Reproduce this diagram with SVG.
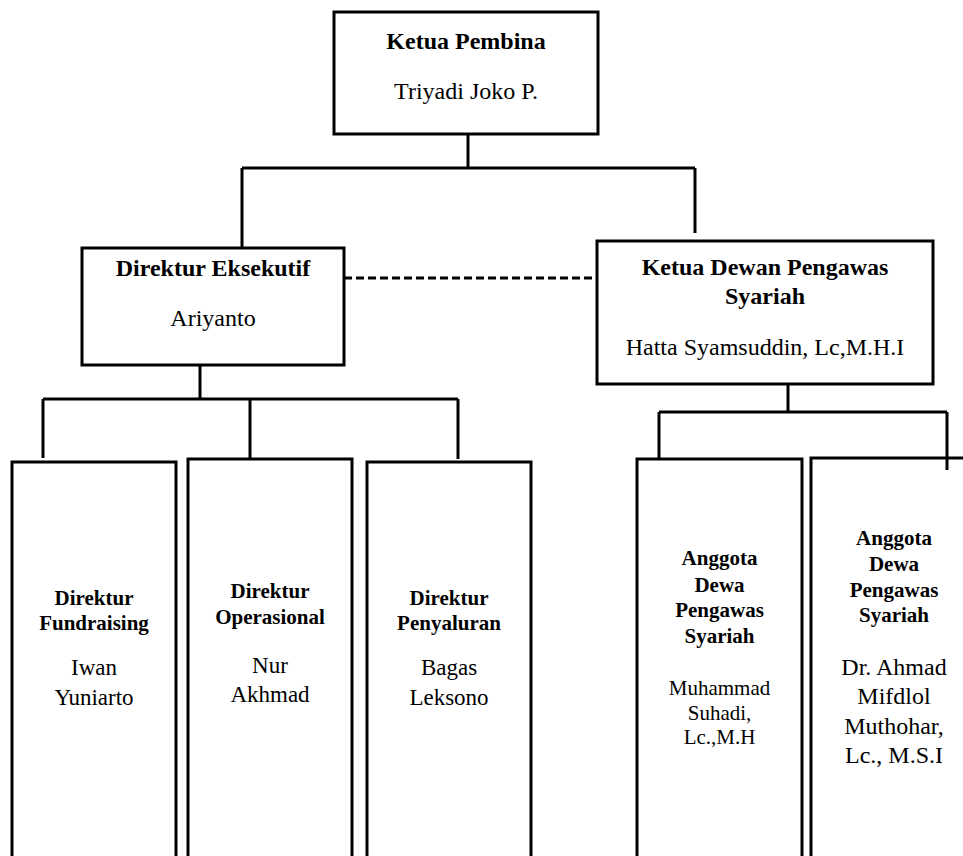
<svg xmlns="http://www.w3.org/2000/svg" width="963" height="856" viewBox="0 0 963 856">
<style>
.box{fill:#fff;stroke:#000;stroke-width:3}
.ln{fill:none;stroke:#000;stroke-width:3}
text{font-family:"Liberation Serif","Times New Roman",serif;fill:#000;text-anchor:middle}
.h{font-weight:bold;font-size:24px}
.n{font-size:24px}
.hs{font-weight:bold;font-size:21px}
.ns{font-size:23px}
.nxs{font-size:21px}
</style>
<rect width="963" height="856" fill="#fff"/>
<g id="connectors">
<path class="ln" d="M468 134V168"/>
<path class="ln" d="M242 168H695" stroke-width="4"/>
<path class="ln" d="M242 168V248M695 168V233"/>
<path class="ln" d="M344 278H597" stroke-dasharray="8 4" stroke-width="2"/>
<path class="ln" d="M200 365V399M43 399H458M43 399V458M250 399V459M458 399V459"/>
<path class="ln" d="M788 384V412M659 412H947M659 412V459M947 412V470"/>
</g>
<g id="ketua-pembina">
<rect class="box" x="334" y="12" width="264" height="122"/>
<text class="h" x="466" y="49">Ketua Pembina</text>
<text class="n" x="466" y="99">Triyadi Joko P.</text>
</g>
<g id="direktur-eksekutif">
<rect class="box" x="82" y="248" width="262" height="117"/>
<text class="h" x="213" y="276">Direktur Eksekutif</text>
<text class="n" x="213" y="326">Ariyanto</text>
</g>
<g id="ketua-dps">
<rect class="box" x="597" y="241" width="336" height="143"/>
<text class="h" x="765" y="275">Ketua Dewan Pengawas</text>
<text class="h" x="765" y="304">Syariah</text>
<text class="n" x="765" y="355">Hatta Syamsuddin, Lc,M.H.I</text>
</g>
<g id="direktur-fundraising">
<path class="ln" d="M12 860V462H176V860"/>
<text class="hs" x="94" y="605">Direktur</text>
<text class="hs" x="94" y="630">Fundraising</text>
<text class="ns" x="94" y="675">Iwan</text>
<text class="ns" x="94" y="705">Yuniarto</text>
</g>
<g id="direktur-operasional">
<path class="ln" d="M188 860V459H352V860"/>
<text class="hs" x="270" y="598">Direktur</text>
<text class="hs" x="270" y="624">Operasional</text>
<text class="ns" x="270" y="673">Nur</text>
<text class="ns" x="270" y="702">Akhmad</text>
</g>
<g id="direktur-penyaluran">
<path class="ln" d="M367 860V462H531V860"/>
<text class="hs" x="449" y="605">Direktur</text>
<text class="hs" x="449" y="630">Penyaluran</text>
<text class="ns" x="449" y="675">Bagas</text>
<text class="ns" x="449" y="705">Leksono</text>
</g>
<g id="anggota-dps-1">
<path class="ln" d="M637 860V459H802V860"/>
<text class="hs" x="719.5" y="565">Anggota</text>
<text class="hs" x="719.5" y="592">Dewa</text>
<text class="hs" x="719.5" y="617">Pengawas</text>
<text class="hs" x="719.5" y="643">Syariah</text>
<text class="nxs" x="719.5" y="695">Muhammad</text>
<text class="nxs" x="719.5" y="720">Suhadi,</text>
<text class="nxs" x="719.5" y="744">Lc.,M.H</text>
</g>
<g id="anggota-dps-2">
<path class="ln" d="M811 860V458H970"/>
<text class="hs" x="894" y="545">Anggota</text>
<text class="hs" x="894" y="571">Dewa</text>
<text class="hs" x="894" y="597">Pengawas</text>
<text class="hs" x="894" y="622">Syariah</text>
<text class="n" x="894" y="675">Dr. Ahmad</text>
<text class="n" x="894" y="704">Mifdlol</text>
<text class="n" x="894" y="734">Muthohar,</text>
<text class="n" x="894" y="763">Lc., M.S.I</text>
</g>
</svg>
